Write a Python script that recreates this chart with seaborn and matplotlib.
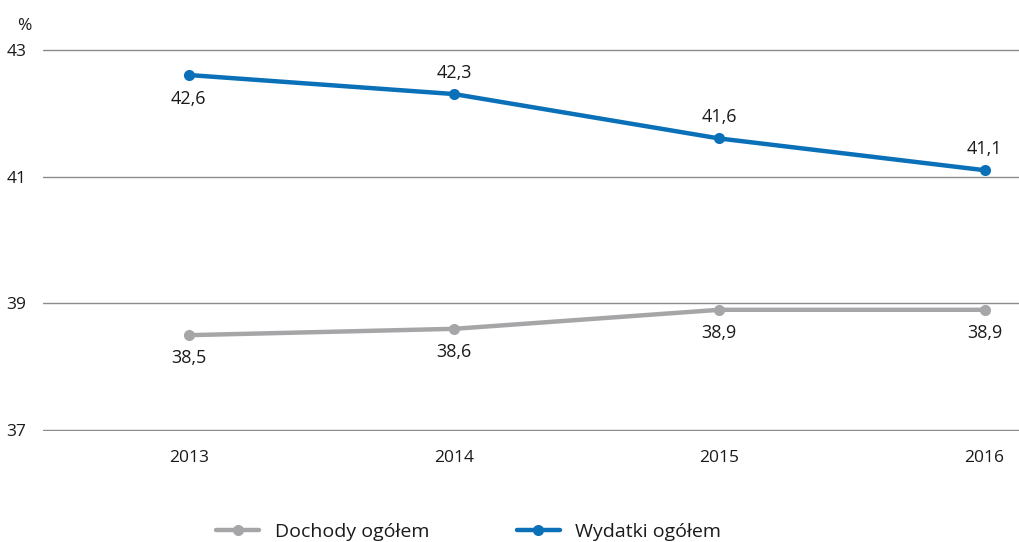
import matplotlib
matplotlib.use("Agg")
import matplotlib.pyplot as plt
import seaborn as sns
import pandas as pd

years = [2013, 2014, 2015, 2016]
dochody = [38.5, 38.6, 38.9, 38.9]
wydatki = [42.6, 42.3, 41.6, 41.1]
series_names = ["Dochody ogółem", "Wydatki ogółem"]
yticks = [37, 39, 41, 43]

sns.set_theme(style="white")
plt.rcParams['font.family'] = ['Open Sans', 'DejaVu Sans']

df = pd.DataFrame({
    "year": years * 2,
    "value": dochody + wydatki,
    "series": [series_names[0]] * 4 + [series_names[1]] * 4,
})

fig = plt.figure(figsize=(10.19, 5.42), dpi=100)
ax = fig.add_axes([0.042, 0.2048, 0.958, 0.7048])

palette = {series_names[0]: "#a6a6a8", series_names[1]: "#0a70b8"}
sns.lineplot(data=df, x="year", y="value", hue="series", palette=palette,
             marker="o", markersize=8, markeredgewidth=0, linewidth=3.2,
             ax=ax, legend=True)

ax.set_ylim(36.99, 43.01)
ax.set_xlim(2012.45, 2016.13)
ax.set_yticks(yticks)
ax.set_xticks(years)
tc = "#1a1a1a"
ax.set_yticklabels([str(t) for t in yticks], fontsize=12.5, color=tc)
ax.set_xticklabels([str(y) for y in years], fontsize=12.5, color=tc)
ax.tick_params(axis='y', length=0, pad=12)
ax.tick_params(axis='x', length=0, pad=14)
ax.yaxis.grid(True, color="#8c8c8c", linewidth=1)
ax.xaxis.grid(False)
for s in ax.spines.values():
    s.set_visible(False)
ax.set_xlabel("")
ax.set_ylabel("")
ax.text(-0.012, 1.04, "%", transform=ax.transAxes, ha="right", va="bottom",
        fontsize=12.5, color=tc)

def fmt(v):
    return f"{v:.1f}".replace(".", ",")

for i, (x, v) in enumerate(zip(years, wydatki)):
    above = i != 0
    ax.annotate(fmt(v), (x, v), xytext=(0, 9 if above else -11),
                textcoords="offset points", ha="center",
                va="bottom" if above else "top", fontsize=13, color=tc)
for x, v in zip(years, dochody):
    ax.annotate(fmt(v), (x, v), xytext=(0, -10), textcoords="offset points",
                ha="center", va="top", fontsize=13, color=tc)

handles, labels = ax.get_legend_handles_labels()
ax.get_legend().remove()
fig.legend(handles, labels, loc="center", bbox_to_anchor=(0.46, 0.018),
           ncol=2, frameon=False, fontsize=14, handlelength=2.2,
           columnspacing=4.5, labelcolor=tc)

fig.savefig("out.png", dpi=100)
